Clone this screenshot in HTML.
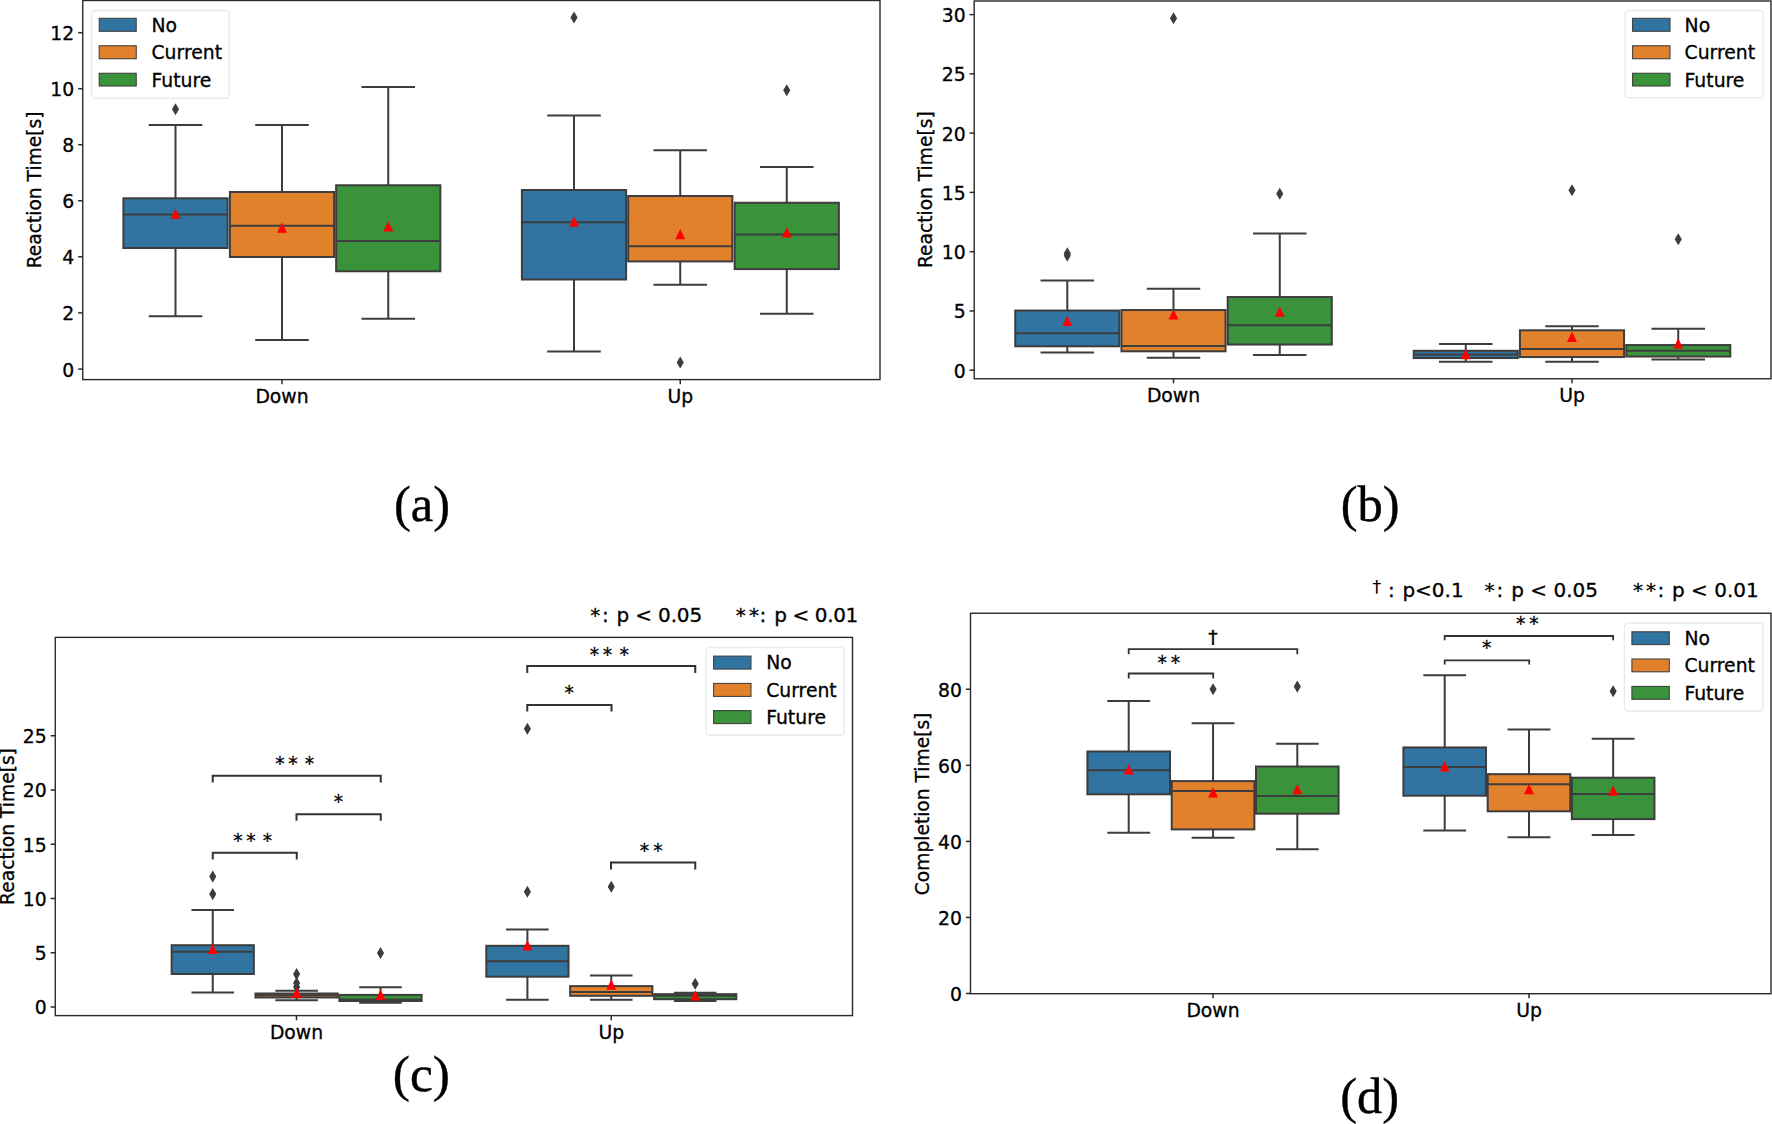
<!DOCTYPE html>
<html lang="en">
<head>
<meta charset="utf-8">
<title>Reaction time and completion time box plots</title>
<style>
html,body{margin:0;padding:0;background:#fff;}
body{width:1772px;height:1124px;overflow:hidden;}
svg{display:block;}
.t{font-family:"DejaVu Sans","Liberation Sans",sans-serif;font-size:18.8px;fill:#000;stroke:#000;stroke-width:.3;}
.yl{font-size:18.65px;}
.h{font-family:"DejaVu Sans","Liberation Sans",sans-serif;font-size:20.0px;fill:#000;stroke:#000;stroke-width:.3;}
.c{font-family:"Liberation Serif","DejaVu Serif",serif;fill:#000;stroke:#000;stroke-width:.4;}
.tk{stroke:#2a2a2a;stroke-width:1.5;}
.ax{fill:none;stroke:#2a2a2a;stroke-width:1.4;}
.bx{stroke:#3d3d3d;stroke-width:2.0;}
.ln{fill:none;stroke:#3d3d3d;stroke-width:2.0;}
.fl{fill:#3d3d3d;stroke:#3d3d3d;stroke-width:1.4;stroke-linejoin:miter;}
.mn{fill:#f00;stroke:#f00;stroke-width:1.2;stroke-linejoin:miter;}
.lg{fill:#fff;fill-opacity:.8;stroke:#ccc;stroke-opacity:.4;stroke-width:1.4;}
.lp{stroke:#3d3d3d;stroke-width:1.05;}
.br{fill:none;stroke:#333;}
</style>
</head>
<body>
<svg width="1772" height="1124" viewBox="0 0 1772 1124">
<rect x="0" y="0" width="1772" height="1124" fill="#fff"/>
<g id="pa">
<line x1="78.15" y1="369.1" x2="82.75" y2="369.1" class="tk"/>
<text x="74.15" y="376.55" class="t" text-anchor="end">0</text>
<line x1="78.15" y1="312.9" x2="82.75" y2="312.9" class="tk"/>
<text x="74.15" y="320.35" class="t" text-anchor="end">2</text>
<line x1="78.15" y1="256.8" x2="82.75" y2="256.8" class="tk"/>
<text x="74.15" y="264.25" class="t" text-anchor="end">4</text>
<line x1="78.15" y1="200.75" x2="82.75" y2="200.75" class="tk"/>
<text x="74.15" y="208.2" class="t" text-anchor="end">6</text>
<line x1="78.15" y1="144.7" x2="82.75" y2="144.7" class="tk"/>
<text x="74.15" y="152.15" class="t" text-anchor="end">8</text>
<line x1="78.15" y1="88.7" x2="82.75" y2="88.7" class="tk"/>
<text x="74.15" y="96.15" class="t" text-anchor="end">10</text>
<line x1="78.15" y1="32.7" x2="82.75" y2="32.7" class="tk"/>
<text x="74.15" y="40.15" class="t" text-anchor="end">12</text>
<line x1="282" y1="379.6" x2="282" y2="384.2" class="tk"/>
<text x="282" y="402.5" class="t" text-anchor="middle">Down</text>
<line x1="680.25" y1="379.6" x2="680.25" y2="384.2" class="tk"/>
<text x="680.25" y="402.5" class="t" text-anchor="middle">Up</text>
<text transform="translate(41.3,189.9) rotate(-90)" class="t yl" text-anchor="middle">Reaction Time[s]</text>
<rect x="123.4" y="198.3" width="104.2" height="49.7" fill="#3274a1" class="bx"/>
<rect x="229.9" y="192" width="104.2" height="65" fill="#e1812c" class="bx"/>
<rect x="336.15" y="185.25" width="104.2" height="86" fill="#3a923a" class="bx"/>
<rect x="521.9" y="190" width="104.2" height="89.5" fill="#3274a1" class="bx"/>
<rect x="628.15" y="196" width="104.2" height="65.4" fill="#e1812c" class="bx"/>
<rect x="734.65" y="202.75" width="104.2" height="66.35" fill="#3a923a" class="bx"/>
<path d="M175.5 198.3V125M175.5 248V316.25M148.75 125H202.25M148.75 316.25H202.25M123.4 214.4H227.6" class="ln"/>
<path d="M175.5 104.6L178.25 109.25L175.5 113.9L172.75 109.25Z" class="fl"/>
<path d="M175.5 210.1L179.5 218.4H171.5Z" class="mn"/>
<path d="M282 192V125M282 257V340M255.25 125H308.75M255.25 340H308.75M229.9 225.75H334.1" class="ln"/>
<path d="M282 223.85L286 232.15H278Z" class="mn"/>
<path d="M388.25 185.25V87M388.25 271.25V318.75M361.5 87H415M361.5 318.75H415M336.15 241H440.35" class="ln"/>
<path d="M388.25 222.6L392.25 230.9H384.25Z" class="mn"/>
<path d="M574 190V115.5M574 279.5V351.5M547.25 115.5H600.75M547.25 351.5H600.75M521.9 222.25H626.1" class="ln"/>
<path d="M574 12.85L576.75 17.5L574 22.15L571.25 17.5Z" class="fl"/>
<path d="M574 217.85L578 226.15H570Z" class="mn"/>
<path d="M680.25 196V150.25M680.25 261.4V284.75M653.5 150.25H707M653.5 284.75H707M628.15 246.25H732.35" class="ln"/>
<path d="M680.25 357.85L683 362.5L680.25 367.15L677.5 362.5Z" class="fl"/>
<path d="M680.25 230.35L684.25 238.65H676.25Z" class="mn"/>
<path d="M786.75 202.75V167M786.75 269.1V313.75M760 167H813.5M760 313.75H813.5M734.65 234.5H838.85" class="ln"/>
<path d="M786.75 85.6L789.5 90.25L786.75 94.9L784 90.25Z" class="fl"/>
<path d="M786.75 228.6L790.75 236.9H782.75Z" class="mn"/>
<rect x="82.75" y="0.5" width="797.25" height="379.1" class="ax"/>
<rect x="91.5" y="10.5" width="137.75" height="87.7" rx="3.5" class="lg"/>
<rect x="99.2" y="18.3" width="37.05" height="13" fill="#3274a1" class="lp"/>
<text x="151.5" y="32" class="t">No</text>
<rect x="99.2" y="45.75" width="37.05" height="13" fill="#e1812c" class="lp"/>
<text x="151.5" y="59.25" class="t">Current</text>
<rect x="99.2" y="73.25" width="37.05" height="12.75" fill="#3a923a" class="lp"/>
<text x="151.5" y="86.5" class="t">Future</text>
</g>
<g id="pb">
<line x1="969.6" y1="370.2" x2="974.2" y2="370.2" class="tk"/>
<text x="965.6" y="377.65" class="t" text-anchor="end">0</text>
<line x1="969.6" y1="311" x2="974.2" y2="311" class="tk"/>
<text x="965.6" y="318.45" class="t" text-anchor="end">5</text>
<line x1="969.6" y1="251.7" x2="974.2" y2="251.7" class="tk"/>
<text x="965.6" y="259.15" class="t" text-anchor="end">10</text>
<line x1="969.6" y1="192.4" x2="974.2" y2="192.4" class="tk"/>
<text x="965.6" y="199.85" class="t" text-anchor="end">15</text>
<line x1="969.6" y1="133.1" x2="974.2" y2="133.1" class="tk"/>
<text x="965.6" y="140.55" class="t" text-anchor="end">20</text>
<line x1="969.6" y1="73.85" x2="974.2" y2="73.85" class="tk"/>
<text x="965.6" y="81.3" class="t" text-anchor="end">25</text>
<line x1="969.6" y1="14.6" x2="974.2" y2="14.6" class="tk"/>
<text x="965.6" y="22.05" class="t" text-anchor="end">30</text>
<line x1="1173.5" y1="378.75" x2="1173.5" y2="383.35" class="tk"/>
<text x="1173.5" y="401.5" class="t" text-anchor="middle">Down</text>
<line x1="1572" y1="378.75" x2="1572" y2="383.35" class="tk"/>
<text x="1572" y="401.5" class="t" text-anchor="middle">Up</text>
<text transform="translate(932.4,189.7) rotate(-90)" class="t yl" text-anchor="middle">Reaction Time[s]</text>
<rect x="1015.25" y="310.55" width="104.1" height="35.75" fill="#3274a1" class="bx"/>
<rect x="1121.45" y="310.05" width="104.1" height="41.25" fill="#e1812c" class="bx"/>
<rect x="1227.7" y="297.05" width="104.1" height="47.5" fill="#3a923a" class="bx"/>
<rect x="1413.7" y="350.8" width="104.1" height="7.25" fill="#3274a1" class="bx"/>
<rect x="1519.95" y="330.3" width="104.1" height="26.75" fill="#e1812c" class="bx"/>
<rect x="1626.2" y="345.05" width="104.1" height="11.5" fill="#3a923a" class="bx"/>
<path d="M1067.3 310.55V280.55M1067.3 346.3V352.55M1040.55 280.55H1094.05M1040.55 352.55H1094.05M1015.25 333.3H1119.35" class="ln"/>
<path d="M1067.3 248.65L1070.05 253.3L1067.3 257.95L1064.55 253.3Z" class="fl"/>
<path d="M1067.3 250.95L1070.05 255.6L1067.3 260.25L1064.55 255.6Z" class="fl"/>
<path d="M1067.3 317.15L1071.3 325.45H1063.3Z" class="mn"/>
<path d="M1173.5 310.05V288.8M1173.5 351.3V357.8M1146.75 288.8H1200.25M1146.75 357.8H1200.25M1121.45 346.05H1225.55" class="ln"/>
<path d="M1173.5 13.65L1176.25 18.3L1173.5 22.95L1170.75 18.3Z" class="fl"/>
<path d="M1173.5 310.65L1177.5 318.95H1169.5Z" class="mn"/>
<path d="M1279.75 297.05V233.55M1279.75 344.55V355.05M1253 233.55H1306.5M1253 355.05H1306.5M1227.7 325.3H1331.8" class="ln"/>
<path d="M1279.75 189.15L1282.5 193.8L1279.75 198.45L1277 193.8Z" class="fl"/>
<path d="M1279.75 307.9L1283.75 316.2H1275.75Z" class="mn"/>
<path d="M1465.75 350.8V344.05M1465.75 358.05V361.8M1439 344.05H1492.5M1439 361.8H1492.5M1413.7 354.55H1517.8" class="ln"/>
<path d="M1465.75 350.4L1469.75 358.7H1461.75Z" class="mn"/>
<path d="M1572 330.3V326.3M1572 357.05V361.8M1545.25 326.3H1598.75M1545.25 361.8H1598.75M1519.95 349.05H1624.05" class="ln"/>
<path d="M1572 185.65L1574.75 190.3L1572 194.95L1569.25 190.3Z" class="fl"/>
<path d="M1572 333.15L1576 341.45H1568Z" class="mn"/>
<path d="M1678.25 345.05V328.8M1678.25 356.55V359.55M1651.5 328.8H1705M1651.5 359.55H1705M1626.2 350.8H1730.3" class="ln"/>
<path d="M1678.25 234.55L1681 239.2L1678.25 243.85L1675.5 239.2Z" class="fl"/>
<path d="M1678.25 339.65L1682.25 347.95H1674.25Z" class="mn"/>
<rect x="974.2" y="1" width="796.8" height="377.75" class="ax"/>
<rect x="1625.25" y="10.5" width="138" height="87.3" rx="3.5" class="lg"/>
<rect x="1632.6" y="18.3" width="37.4" height="13" fill="#3274a1" class="lp"/>
<text x="1684.6" y="32" class="t">No</text>
<rect x="1632.6" y="45.75" width="37.4" height="13" fill="#e1812c" class="lp"/>
<text x="1684.6" y="59.25" class="t">Current</text>
<rect x="1632.6" y="73.25" width="37.4" height="12.75" fill="#3a923a" class="lp"/>
<text x="1684.6" y="86.5" class="t">Future</text>
</g>
<g id="pc">
<line x1="50.65" y1="1007" x2="55.25" y2="1007" class="tk"/>
<text x="46.65" y="1014.45" class="t" text-anchor="end">0</text>
<line x1="50.65" y1="952.75" x2="55.25" y2="952.75" class="tk"/>
<text x="46.65" y="960.2" class="t" text-anchor="end">5</text>
<line x1="50.65" y1="898.5" x2="55.25" y2="898.5" class="tk"/>
<text x="46.65" y="905.95" class="t" text-anchor="end">10</text>
<line x1="50.65" y1="844.25" x2="55.25" y2="844.25" class="tk"/>
<text x="46.65" y="851.7" class="t" text-anchor="end">15</text>
<line x1="50.65" y1="790" x2="55.25" y2="790" class="tk"/>
<text x="46.65" y="797.45" class="t" text-anchor="end">20</text>
<line x1="50.65" y1="735.75" x2="55.25" y2="735.75" class="tk"/>
<text x="46.65" y="743.2" class="t" text-anchor="end">25</text>
<line x1="296.5" y1="1015.6" x2="296.5" y2="1020.2" class="tk"/>
<text x="296.5" y="1038.75" class="t" text-anchor="middle">Down</text>
<line x1="611.25" y1="1015.6" x2="611.25" y2="1020.2" class="tk"/>
<text x="611.25" y="1038.75" class="t" text-anchor="middle">Up</text>
<text transform="translate(14,826.5) rotate(-90)" class="t yl" text-anchor="middle">Reaction Time[s]</text>
<rect x="171.65" y="945.2" width="82.2" height="28.8" fill="#3274a1" class="bx"/>
<rect x="255.5" y="993.5" width="82.2" height="4" fill="#e1812c" class="bx"/>
<rect x="339.4" y="994.9" width="82.2" height="6.1" fill="#3a923a" class="bx"/>
<rect x="486.3" y="945.8" width="82.2" height="30.9" fill="#3274a1" class="bx"/>
<rect x="570.15" y="986.1" width="82.2" height="9.7" fill="#e1812c" class="bx"/>
<rect x="654.1" y="994.15" width="82.2" height="5.05" fill="#3a923a" class="bx"/>
<path d="M212.75 945.2V910.1M212.75 974V992.4M191.45 910.1H234.05M191.45 992.4H234.05M171.65 951.8H253.85" class="ln"/>
<path d="M212.75 871.95L215.5 876.6L212.75 881.25L210 876.6Z" class="fl"/>
<path d="M212.75 889.45L215.5 894.1L212.75 898.75L210 894.1Z" class="fl"/>
<path d="M212.75 945.15L216.75 953.45H208.75Z" class="mn"/>
<path d="M296.6 993.5V990.7M296.6 997.5V1000.3M275.3 990.7H317.9M275.3 1000.3H317.9M255.5 995.2H337.7" class="ln"/>
<path d="M296.6 969.45L299.35 974.1L296.6 978.75L293.85 974.1Z" class="fl"/>
<path d="M296.6 978.45L299.35 983.1L296.6 987.75L293.85 983.1Z" class="fl"/>
<path d="M296.6 982.45L299.35 987.1L296.6 991.75L293.85 987.1Z" class="fl"/>
<path d="M296.6 989.05L300.6 997.35H292.6Z" class="mn"/>
<path d="M380.5 994.9V987.2M380.5 1001V1002.7M359.2 987.2H401.8M359.2 1002.7H401.8M339.4 999.6H421.6" class="ln"/>
<path d="M380.5 948.35L383.25 953L380.5 957.65L377.75 953Z" class="fl"/>
<path d="M380.5 990.85L384.5 999.15H376.5Z" class="mn"/>
<path d="M527.4 945.8V929.6M527.4 976.7V999.8M506.1 929.6H548.7M506.1 999.8H548.7M486.3 961.2H568.5" class="ln"/>
<path d="M527.4 724.1L530.15 728.75L527.4 733.4L524.65 728.75Z" class="fl"/>
<path d="M527.4 887.1L530.15 891.75L527.4 896.4L524.65 891.75Z" class="fl"/>
<path d="M527.4 941.55L531.4 949.85H523.4Z" class="mn"/>
<path d="M611.25 986.1V975.6M611.25 995.8V999.8M589.95 975.6H632.55M589.95 999.8H632.55M570.15 992.05H652.35" class="ln"/>
<path d="M611.25 882.1L614 886.75L611.25 891.4L608.5 886.75Z" class="fl"/>
<path d="M611.25 980.85L615.25 989.15H607.25Z" class="mn"/>
<path d="M695.2 994.15V992.7M695.2 999.2V1000.9M673.9 992.7H716.5M673.9 1000.9H716.5M654.1 995.7H736.3" class="ln"/>
<path d="M695.2 979.05L697.95 983.7L695.2 988.35L692.45 983.7Z" class="fl"/>
<path d="M695.2 991.7L699.2 1000H691.2Z" class="mn"/>
<rect x="55.25" y="637.4" width="797.25" height="378.2" class="ax"/>
<rect x="706.25" y="647.5" width="138" height="87.7" rx="3.5" class="lg"/>
<rect x="713.6" y="656.1" width="37.4" height="13" fill="#3274a1" class="lp"/>
<text x="766.2" y="669.4" class="t">No</text>
<rect x="713.6" y="683.4" width="37.4" height="13" fill="#e1812c" class="lp"/>
<text x="766.2" y="696.6" class="t">Current</text>
<rect x="713.6" y="710.6" width="37.4" height="13" fill="#3a923a" class="lp"/>
<text x="766.2" y="723.8" class="t">Future</text>
<path d="M212.75 782.6V775.85H380.75V782.6" class="br" stroke-width="2"/>
<text x="275.3 288.3 304.8" y="769.94" class="t">***</text>
<path d="M296.5 820.85V814.35H380.75V820.85" class="br" stroke-width="2"/>
<text x="333.8" y="808.19" class="t">*</text>
<path d="M212.75 859.6V852.85H296.75V859.6" class="br" stroke-width="2"/>
<text x="233.3 246.3 262.8" y="846.94" class="t">***</text>
<path d="M527.25 673.1V666.1H695.25V673.1" class="br" stroke-width="2"/>
<text x="589.8 602.8 619.55" y="660.69" class="t">***</text>
<path d="M527.25 711.6V705.1H611.5V711.6" class="br" stroke-width="2"/>
<text x="564.55" y="699.44" class="t">*</text>
<path d="M611 869.6V862.6H695.25V869.6" class="br" stroke-width="2"/>
<text x="639.8 653.3" y="856.94" class="t">**</text>
<text y="621.8" class="h"><tspan x="590.3">*</tspan><tspan x="602">:</tspan><tspan x="616.5" letter-spacing="-0.15">p &lt; 0.05</tspan></text>
<text y="621.8" class="h"><tspan x="735.7">*</tspan><tspan x="749">*</tspan><tspan x="759.6">:</tspan><tspan x="774.3" letter-spacing="-0.4">p &lt; 0.01</tspan></text>
</g>
<g id="pd">
<line x1="965.9" y1="993.5" x2="970.5" y2="993.5" class="tk"/>
<text x="961.9" y="1000.95" class="t" text-anchor="end">0</text>
<line x1="965.9" y1="917.45" x2="970.5" y2="917.45" class="tk"/>
<text x="961.9" y="924.9" class="t" text-anchor="end">20</text>
<line x1="965.9" y1="841.4" x2="970.5" y2="841.4" class="tk"/>
<text x="961.9" y="848.85" class="t" text-anchor="end">40</text>
<line x1="965.9" y1="765.3" x2="970.5" y2="765.3" class="tk"/>
<text x="961.9" y="772.75" class="t" text-anchor="end">60</text>
<line x1="965.9" y1="689.25" x2="970.5" y2="689.25" class="tk"/>
<text x="961.9" y="696.7" class="t" text-anchor="end">80</text>
<line x1="1213" y1="993.7" x2="1213" y2="998.3" class="tk"/>
<text x="1213" y="1016.7" class="t" text-anchor="middle">Down</text>
<line x1="1529" y1="993.7" x2="1529" y2="998.3" class="tk"/>
<text x="1529" y="1016.7" class="t" text-anchor="middle">Up</text>
<text transform="translate(929.4,803.9) rotate(-90)" class="t yl" text-anchor="middle">Completion Time[s]</text>
<rect x="1087.4" y="751.5" width="82.6" height="42.8" fill="#3274a1" class="bx"/>
<rect x="1171.75" y="781.1" width="82.6" height="48.3" fill="#e1812c" class="bx"/>
<rect x="1256" y="766.5" width="82.6" height="47.2" fill="#3a923a" class="bx"/>
<rect x="1403.4" y="747.45" width="82.6" height="48.25" fill="#3274a1" class="bx"/>
<rect x="1487.7" y="774.15" width="82.6" height="37.15" fill="#e1812c" class="bx"/>
<rect x="1571.85" y="777.7" width="82.6" height="41.4" fill="#3a923a" class="bx"/>
<path d="M1128.7 751.5V700.9M1128.7 794.3V832.8M1107.3 700.9H1150.1M1107.3 832.8H1150.1M1087.4 770.3H1170" class="ln"/>
<path d="M1128.7 765.7L1132.7 774H1124.7Z" class="mn"/>
<path d="M1213.05 781.1V723.3M1213.05 829.4V837.7M1191.65 723.3H1234.45M1191.65 837.7H1234.45M1171.75 790.9H1254.35" class="ln"/>
<path d="M1213.05 684.55L1215.8 689.2L1213.05 693.85L1210.3 689.2Z" class="fl"/>
<path d="M1213.05 788.65L1217.05 796.95H1209.05Z" class="mn"/>
<path d="M1297.3 766.5V743.7M1297.3 813.7V849.2M1275.9 743.7H1318.7M1275.9 849.2H1318.7M1256 796.1H1338.6" class="ln"/>
<path d="M1297.3 681.95L1300.05 686.6L1297.3 691.25L1294.55 686.6Z" class="fl"/>
<path d="M1297.3 785.35L1301.3 793.65H1293.3Z" class="mn"/>
<path d="M1444.7 747.45V675.2M1444.7 795.7V830.4M1423.3 675.2H1466.1M1423.3 830.4H1466.1M1403.4 767H1486" class="ln"/>
<path d="M1444.7 762.55L1448.7 770.85H1440.7Z" class="mn"/>
<path d="M1529 774.15V729.4M1529 811.3V837.3M1507.6 729.4H1550.4M1507.6 837.3H1550.4M1487.7 784.15H1570.3" class="ln"/>
<path d="M1529 785.35L1533 793.65H1525Z" class="mn"/>
<path d="M1613.15 777.7V738.8M1613.15 819.1V835.1M1591.75 738.8H1634.55M1591.75 835.1H1634.55M1571.85 793.9H1654.45" class="ln"/>
<path d="M1613.15 686.55L1615.9 691.2L1613.15 695.85L1610.4 691.2Z" class="fl"/>
<path d="M1613.15 786.95L1617.15 795.25H1609.15Z" class="mn"/>
<rect x="970.5" y="613.25" width="800.5" height="380.45" class="ax"/>
<rect x="1624.5" y="623" width="138.5" height="88" rx="3.5" class="lg"/>
<rect x="1631.9" y="631.8" width="37.4" height="12.8" fill="#3274a1" class="lp"/>
<text x="1684.4" y="645.1" class="t">No</text>
<rect x="1631.9" y="659" width="37.4" height="12.8" fill="#e1812c" class="lp"/>
<text x="1684.4" y="672.3" class="t">Current</text>
<rect x="1631.9" y="686.4" width="37.4" height="12.9" fill="#3a923a" class="lp"/>
<text x="1684.4" y="699.6" class="t">Future</text>
<path d="M1128.7 654.2V649.2H1297.3V654.2" class="br" stroke-width="1.8"/>
<text x="1208.3" y="644.22" class="t">†</text>
<path d="M1128.7 678.5V673.5H1213.2V678.5" class="br" stroke-width="1.8"/>
<text x="1157.55 1170.8" y="668.69" class="t">**</text>
<path d="M1444.7 640.2V636H1613.1V640.2" class="br" stroke-width="1.8"/>
<text x="1515.9 1529.2" y="629.79" class="t">**</text>
<path d="M1444.7 664.6V660.4H1529.2V664.6" class="br" stroke-width="1.8"/>
<text x="1482.05" y="654.49" class="t">*</text>
<text y="596.6" class="h"><tspan x="1372.3" font-size="18" dy="-3.3" stroke="none">†</tspan><tspan x="1388" dy="3.3">:</tspan><tspan x="1402.4">p&lt;0.1</tspan></text>
<text y="596.6" class="h"><tspan x="1484.5">*</tspan><tspan x="1496.6">:</tspan><tspan x="1511.3">p &lt; 0.05</tspan></text>
<text y="596.6" class="h"><tspan x="1632.9">*</tspan><tspan x="1646">*</tspan><tspan x="1657.4">:</tspan><tspan x="1672">p &lt; 0.01</tspan></text>
</g>
<text x="394.0" y="521.25" class="c" font-size="50.5">(a)</text>
<text x="1340.7" y="521.3" class="c" font-size="50.5">(b)</text>
<text x="392.78" y="1090.9" class="c" font-size="51.5">(c)</text>
<text x="1340.3" y="1112.7" class="c" font-size="50.5">(d)</text>
</svg>
</body>
</html>
